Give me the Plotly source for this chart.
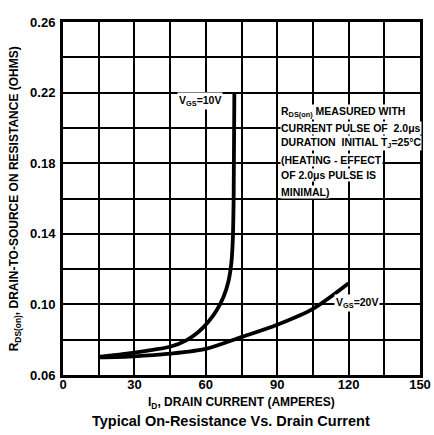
import plotly.graph_objects as go

# Data
i_10v = [15, 25, 35, 45, 52, 57, 61, 64.5, 67.5, 69.5, 70.7, 71.3, 71.7, 72]
r_10v = [0.0703, 0.0718, 0.0737, 0.0760, 0.0798, 0.0845, 0.0900, 0.0965, 0.1045, 0.1130, 0.1230, 0.1350, 0.1600, 0.2200]

i_20v = [15, 30, 45, 60, 75, 90, 105, 120]
r_20v = [0.0700, 0.0706, 0.0721, 0.0748, 0.0815, 0.0885, 0.0975, 0.1120]

x_ticks = [0, 30, 60, 90, 120, 150]
x_ticklabels = ["0", "30", "60", "90", "120", "150"]
y_ticks = [0.06, 0.10, 0.14, 0.18, 0.22, 0.26]
y_ticklabels = ["0.06", "0.10", "0.14", "0.18", "0.22", "0.26"]

note_lines = [
    "R<sub>DS(on)</sub> MEASURED WITH",
    "CURRENT PULSE OF  2.0μs",
    "DURATION  INITIAL T<sub>J</sub>=25°C",
    "(HEATING - EFFECT",
    "OF 2.0μs PULSE IS",
    "MINIMAL)",
]
note_y = [0.2092, 0.2000, 0.1914, 0.1818, 0.1733, 0.1637]

FONT = "Liberation Sans"

fig = go.Figure()
fig.add_trace(go.Scatter(x=i_10v, y=r_10v, mode="lines",
                         line=dict(color="black", width=3.8, shape="spline", smoothing=0.6),
                         showlegend=False))
fig.add_trace(go.Scatter(x=i_20v, y=r_20v, mode="lines",
                         line=dict(color="black", width=3.8, shape="spline", smoothing=0.8),
                         showlegend=False))

annotations = [
    dict(x=57.5, y=0.2155, text="<b>V<sub>GS</sub>=10V</b>", showarrow=False,
         xref="x", yref="y", bgcolor="white", font=dict(size=10.5, color="black", family=FONT)),
    dict(x=123.5, y=0.1010, text="<b>V<sub>GS</sub>=20V</b>", showarrow=False,
         xref="x", yref="y", bgcolor="white", font=dict(size=10.5, color="black", family=FONT)),
    dict(x=0.5, y=-0.078, xref="paper", yref="paper", yanchor="middle",
         text="<b>I<sub>D</sub>, DRAIN CURRENT (AMPERES)</b>", showarrow=False,
         font=dict(size=12, color="black", family=FONT)),
    dict(x=0.47, y=-0.13, xref="paper", yref="paper", yanchor="middle",
         text="<b>Typical On-Resistance Vs. Drain Current</b>", showarrow=False,
         font=dict(size=14.5, color="black", family=FONT)),
    dict(x=-0.135, y=0.5, xref="paper", yref="paper", textangle=-90,
         xanchor="center", yanchor="middle",
         text="<b>R<sub>DS(on)</sub>, DRAIN-TO-SOURCE ON RESISTANCE (OHMS)</b>", showarrow=False,
         font=dict(size=12, color="black", family=FONT)),
]
for t, yy in zip(note_lines, note_y):
    annotations.append(dict(x=91, y=yy, xref="x", yref="y", xanchor="left",
                            text="<b>" + t + "</b>", showarrow=False, bgcolor="white",
                            borderpad=0,
                            font=dict(size=10.5, color="black", family=FONT)))

fig.update_layout(
    width=434, height=435,
    margin=dict(l=63, r=14, t=22, b=60),
    paper_bgcolor="white", plot_bgcolor="white",
    font=dict(family=FONT, color="black"),
    annotations=annotations,
    xaxis=dict(range=[0, 150], tickvals=x_ticks, ticktext=["<b>%s</b>" % s for s in x_ticklabels],
               showgrid=True, gridcolor="black", gridwidth=2,
               minor=dict(dtick=15, showgrid=True, gridcolor="black", gridwidth=2),
               showline=True, linecolor="black", linewidth=3, mirror=True,
               ticks="outside", ticklen=0, ticklabelstandoff=-5, zeroline=False, automargin=False,
               tickfont=dict(size=13, family=FONT)),
    yaxis=dict(range=[0.06, 0.26], tickvals=y_ticks, ticktext=["<b>%s</b>" % s for s in y_ticklabels],
               showgrid=True, gridcolor="black", gridwidth=2,
               minor=dict(dtick=0.02, showgrid=True, gridcolor="black", gridwidth=2),
               showline=True, linecolor="black", linewidth=3, mirror=True,
               ticks="outside", ticklen=2, tickcolor="white", zeroline=False, automargin=False,
               tickfont=dict(size=13, family=FONT)),
)

fig.write_html("out.html", config={"displayModeBar": False},
               post_script="document.body.style.margin='0';document.body.style.overflow='hidden';")
